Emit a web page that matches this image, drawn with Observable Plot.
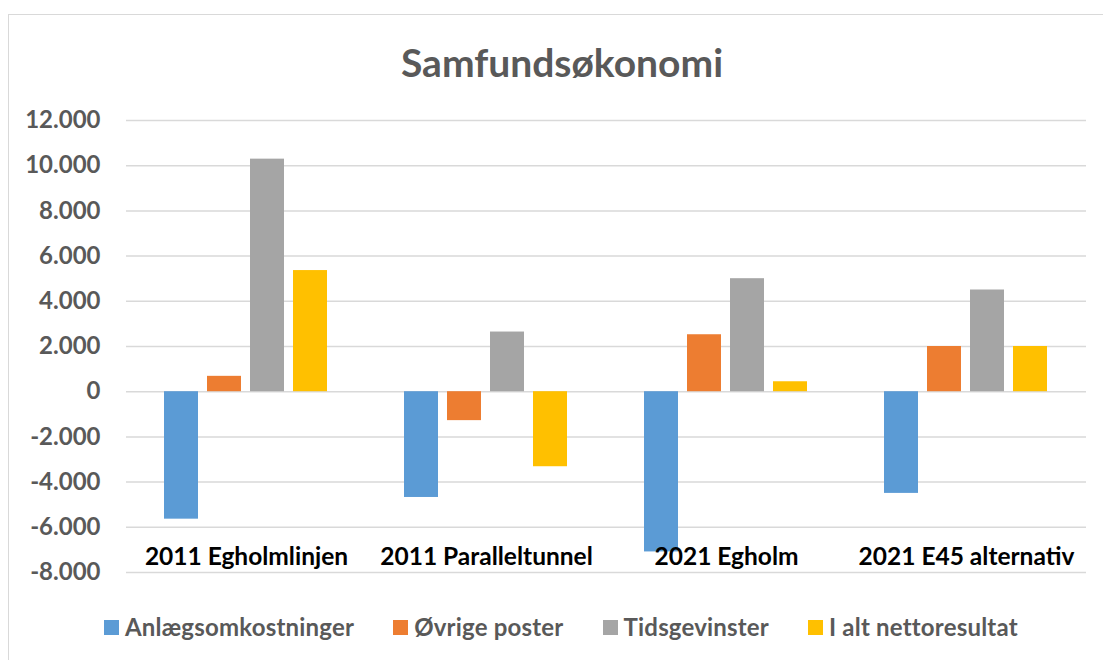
<!DOCTYPE html>
<html><head><meta charset="utf-8">
<script src="https://cdn.jsdelivr.net/npm/d3@7"></script>
<script src="https://cdn.jsdelivr.net/npm/@observablehq/plot@0.6"></script>
<style>
html,body{margin:0;padding:0}
body{width:1103px;height:660px;overflow:hidden;background:#fff;font-family:Lato,sans-serif;position:relative}
#frame{position:absolute;left:8px;top:14px;width:1200px;height:800px;border-left:1.5px solid #d9d9d9;border-top:1.5px solid #d9d9d9;box-sizing:border-box}
#title{position:absolute;left:0;width:1124px;top:38px;text-align:center;font-weight:bold;font-size:39px;color:#595959;line-height:48px}
#chart{position:absolute;left:0;top:100px}
#legend{position:absolute;left:104px;top:612px;display:flex;align-items:center;font-weight:bold;font-size:24px;letter-spacing:0.2px;color:#595959;white-space:nowrap;line-height:30px}
.item{display:flex;align-items:center;margin-right:39px}
.sw{width:15px;height:15px;margin-right:6px}
</style>
</head><body>
<div id="frame"></div>
<div id="title">Samfundsøkonomi</div>
<div id="chart"></div>
<div id="legend"></div>
<script>
const categories = ["2011 Egholmlinjen", "2011 Paralleltunnel", "2021 Egholm", "2021 E45 alternativ"];
const series = ["Anlægsomkostninger", "Øvrige poster", "Tidsgevinster", "I alt nettoresultat"];
const anlaeg = [-5640, -4680, -7090, -4500];
const oevrige = [680, -1280, 2520, 2000];
const tids = [10290, 2640, 5000, 4500];
const ialt = [5360, -3320, 440, 2000];
const colors = ["#5B9BD5", "#ED7D31", "#A5A5A5", "#FFC000"];
const yTicks = [-8000, -6000, -4000, -2000, 0, 2000, 4000, 6000, 8000, 10000, 12000];
const yTickLabels = ["-8.000", "-6.000", "-4.000", "-2.000", "0", "2.000", "4.000", "6.000", "8.000", "10.000", "12.000"];
const yDomain = [-8000, 12000];

const seriesValues = [anlaeg, oevrige, tids, ialt];
const rows = [];
categories.forEach((c, i) => series.forEach((s, j) => rows.push({category: c, series: s, value: seriesValues[j][i]})));

const chart = Plot.plot({
  width: 1103,
  height: 490,
  marginLeft: 126,
  marginRight: 17,
  marginTop: 20,
  marginBottom: 18,
  style: {fontFamily: "Lato, sans-serif", background: "transparent"},
  fx: {domain: categories, padding: 0, axis: null},
  x: {domain: series, paddingInner: 0.2, paddingOuter: 0.83, axis: null},
  y: {domain: yDomain},
  color: {domain: series, range: colors},
  marks: [
    Plot.ruleY(yTicks, {stroke: "#d9d9d9", strokeWidth: 1.5}),
    Plot.axisY(yTicks, {
      tickFormat: d => yTickLabels[yTicks.indexOf(d)],
      tickSize: 0, tickPadding: 26, fontSize: 24, fontWeight: "bold", fill: "#595959", label: null
    }),
    Plot.barY(rows, {fx: "category", x: "series", y: "value", fill: "series"}),
    Plot.text(categories, {fx: d => d, y: () => yDomain[0], text: d => d, dy: -15, fontSize: 24.5, fontWeight: "bold", fill: "#000"})
  ]
});
document.getElementById("chart").appendChild(chart);

const legend = document.getElementById("legend");
series.forEach((s, i) => {
  const it = document.createElement("div");
  it.className = "item";
  const sw = document.createElement("div");
  sw.className = "sw";
  sw.style.background = colors[i];
  const t = document.createElement("span");
  t.textContent = s;
  it.appendChild(sw); it.appendChild(t);
  legend.appendChild(it);
});
</script>
</body></html>
